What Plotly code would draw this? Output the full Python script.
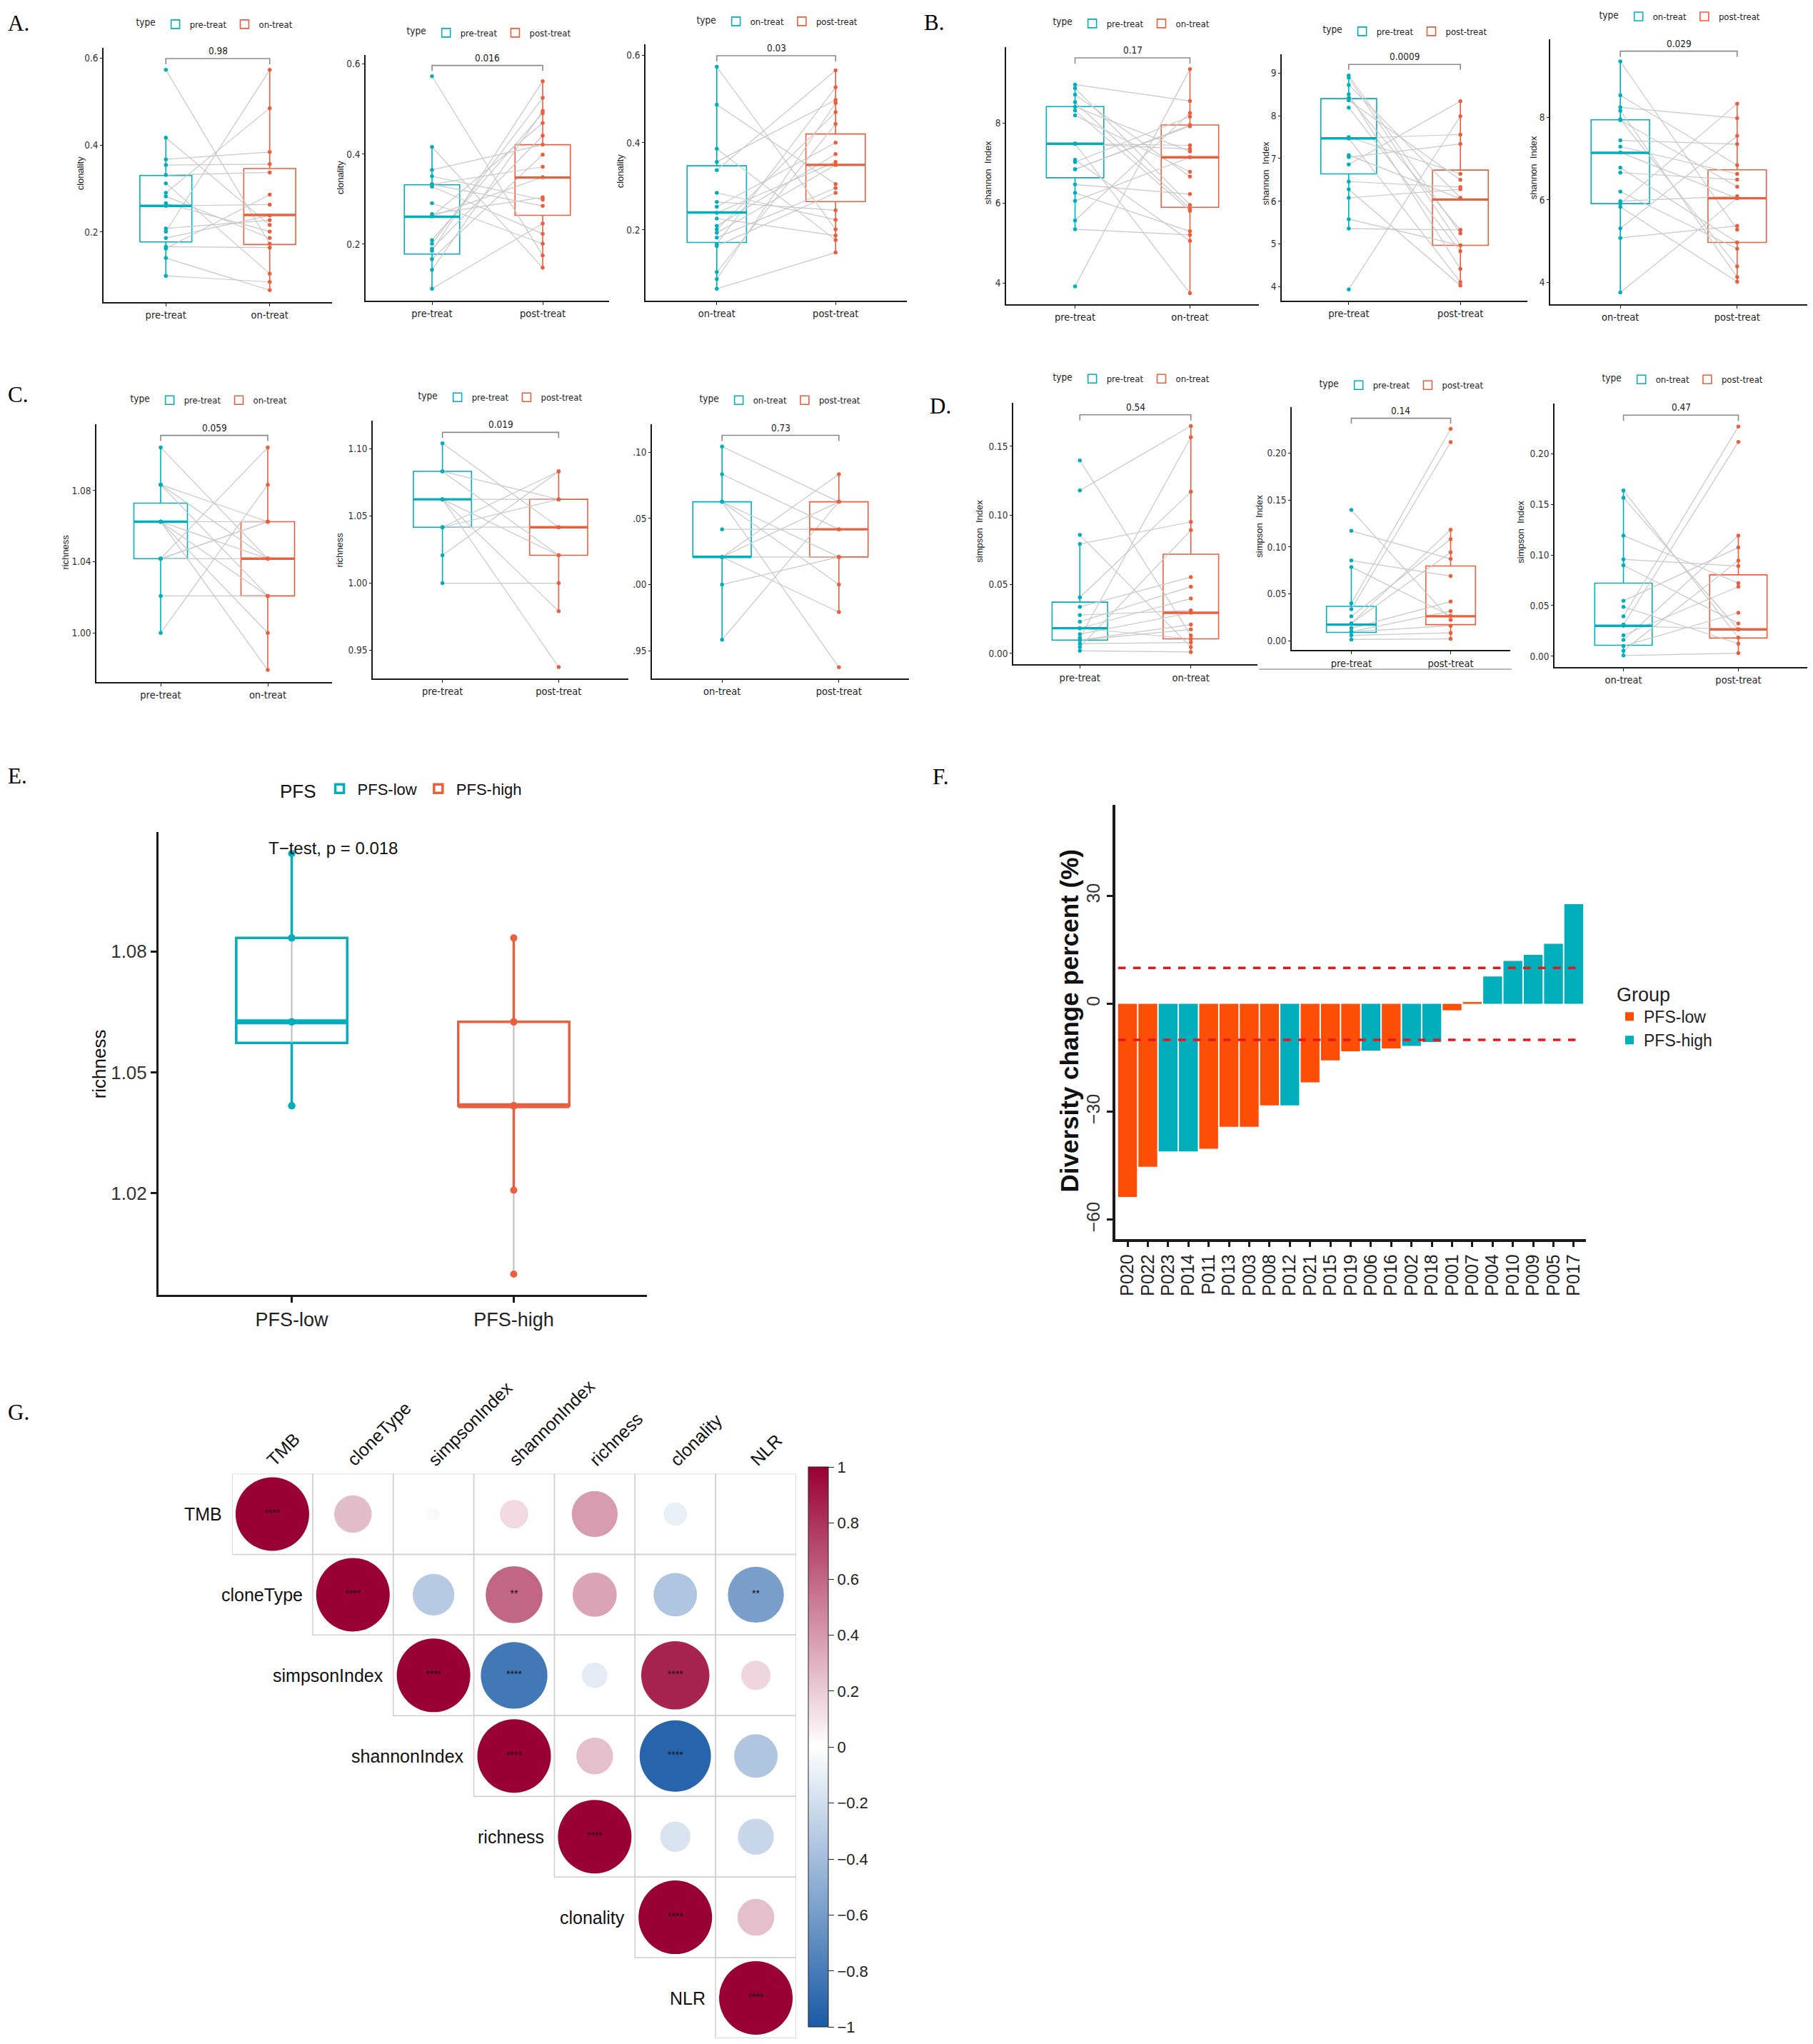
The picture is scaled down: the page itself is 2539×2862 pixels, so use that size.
import plotly.graph_objects as go

W, H = 2539, 2862
OFF = 8                      # default page margin around the plot div
PW, PH = W - 2 * OFF, H - 2 * OFF
SANS = "Liberation Sans, Arial, Helvetica, sans-serif"
NARROW = "Liberation Sans Narrow, Arial Narrow, DejaVu Sans Condensed, Liberation Sans, sans-serif"
SERIF = "Liberation Serif, Times New Roman, serif"
TEAL = "#00AFBB"
RED = "#EA5F3D"
ORANGE = "#FC4E07"
PAIR_GRAY = "#C8C8C8"

# ------------------------------------------------------------------ data
# Panels A-D: paired values (same patient at the same index) + box stats
# box stats = [lower whisker, Q1, median, Q3, upper whisker]
A1_pre = [0.573, 0.417, 0.367, 0.354, 0.331, 0.312, 0.290, 0.282, 0.266, 0.260, 0.208, 0.201, 0.186, 0.166, 0.162, 0.140, 0.099]
A1_on = [0.173, 0.216, 0.384, 0.356, 0.337, 0.104, 0.485, 0.186, 0.201, 0.263, 0.227, 0.573, 0.238, 0.164, 0.286, 0.066, 0.085]
A1_pre_box = [0.099, 0.177, 0.260, 0.330, 0.417]
A1_on_box = [0.066, 0.171, 0.239, 0.346, 0.573]

A2_pre = [0.573, 0.416, 0.365, 0.351, 0.333, 0.333, 0.328, 0.291, 0.267, 0.262, 0.262, 0.209, 0.201, 0.190, 0.185, 0.167, 0.143, 0.101]
A2_post = [0.175, 0.148, 0.421, 0.299, 0.285, 0.372, 0.223, 0.201, 0.304, 0.349, 0.469, 0.491, 0.525, 0.441, 0.562, 0.399, 0.496, 0.246]
A2_pre_box = [0.101, 0.178, 0.261, 0.332, 0.416]
A2_post_box = [0.148, 0.264, 0.348, 0.421, 0.562]

A3_on = [0.574, 0.487, 0.386, 0.356, 0.337, 0.285, 0.264, 0.253, 0.239, 0.226, 0.209, 0.201, 0.193, 0.182, 0.168, 0.163, 0.103, 0.087, 0.065]
A3_post = [0.201, 0.305, 0.177, 0.498, 0.566, 0.223, 0.245, 0.400, 0.356, 0.187, 0.374, 0.470, 0.349, 0.296, 0.527, 0.285, 0.443, 0.491, 0.148]
A3_on_box = [0.065, 0.171, 0.240, 0.347, 0.574]
A3_post_box = [0.148, 0.265, 0.349, 0.420, 0.566]

B1_pre = [8.97, 8.88, 8.72, 8.53, 8.41, 8.32, 8.20, 7.49, 7.49, 7.49, 7.09, 7.03, 6.85, 6.85, 6.47, 6.26, 6.06, 5.57, 5.35, 3.92]
B1_on = [8.56, 5.96, 6.67, 5.87, 7.30, 5.81, 6.79, 7.36, 3.75, 7.45, 5.06, 8.17, 7.96, 7.93, 6.23, 5.30, 7.15, 8.26, 5.21, 9.36]
B1_pre_box = [5.35, 6.64, 7.49, 8.42, 8.97]
B1_on_box = [3.75, 5.90, 7.15, 7.96, 9.36]

B2_pre = [8.94, 8.89, 8.72, 8.50, 8.42, 8.36, 8.19, 7.50, 7.47, 7.47, 7.08, 7.03, 6.86, 6.46, 6.28, 6.08, 5.58, 5.36, 3.94]
B2_post = [5.25, 4.97, 6.08, 4.42, 5.33, 6.50, 4.83, 6.64, 4.11, 7.56, 6.06, 7.34, 8.34, 6.33, 4.03, 6.28, 4.97, 5.33, 7.99]
B2_pre_box = [5.36, 6.64, 7.47, 8.40, 8.94]
B2_post_box = [4.03, 4.97, 6.04, 6.73, 8.34]

B3_on = [9.35, 8.53, 8.24, 8.16, 7.95, 7.93, 7.44, 7.29, 7.15, 6.78, 6.66, 6.20, 5.97, 5.91, 5.83, 5.31, 5.08, 3.76]
B3_post = [5.28, 6.84, 7.98, 4.13, 4.39, 6.32, 7.35, 6.63, 6.04, 4.97, 6.49, 4.82, 6.09, 8.33, 4.02, 7.55, 5.37, 6.04]
B3_on_box = [3.76, 5.91, 7.14, 7.94, 9.35]
B3_post_box = [4.02, 4.97, 6.04, 6.73, 8.33]

C1_pre = [1.1042, 1.0833, 1.0833, 1.0833, 1.0625, 1.0625, 1.0625, 1.0625, 1.0625, 1.0417, 1.0417, 1.0417, 1.0417, 1.0208, 1.0000]
C1_on = [1.0417, 1.0208, 1.0417, 1.0625, 1.0417, 1.0208, 1.0000, 0.9792, 1.0625, 1.0417, 1.1042, 1.0625, 1.0625, 1.0208, 1.0833]
C1_pre_box = [1.0000, 1.0417, 1.0625, 1.0729, 1.1042]
C1_on_box = [0.9792, 1.0208, 1.0417, 1.0625, 1.1042]

C2_pre = [1.1042, 1.0833, 1.0833, 1.0625, 1.0625, 1.0625, 1.0417, 1.0417, 1.0417, 1.0208, 1.0000, 1.0625]
C2_post = [1.0417, 1.0208, 1.0625, 1.0625, 1.0208, 0.9375, 1.0833, 1.0625, 1.0417, 1.0833, 1.0000, 0.9792]
C2_pre_box = [1.0000, 1.0417, 1.0625, 1.0833, 1.1042]
C2_post_box = [0.9792, 1.0208, 1.0417, 1.0625, 1.0833]

C3_on = [1.1042, 1.0833, 1.0625, 1.0625, 1.0625, 1.0417, 1.0208, 1.0208, 1.0208, 1.0208, 1.0000, 0.9583]
C3_post = [1.0625, 1.0417, 1.0208, 1.0000, 0.9375, 1.0417, 1.0833, 1.0625, 1.0208, 0.9792, 1.0208, 1.0625]
C3_on_box = [0.9583, 1.0208, 1.0208, 1.0625, 1.1042]
C3_post_box = [0.9792, 1.0208, 1.0417, 1.0625, 1.0833]

D1_pre = [0.1397, 0.1179, 0.0857, 0.0792, 0.0405, 0.0337, 0.0277, 0.0229, 0.0182, 0.0182, 0.0139, 0.0113, 0.0096, 0.0096, 0.0070, 0.0045, 0.0019]
D1_on = [0.0130, 0.1646, 0.0045, 0.0952, 0.1170, 0.0552, 0.0311, 0.0483, 0.0397, 0.0105, 0.0294, 0.1565, 0.0208, 0.0173, 0.0079, 0.0892, 0.0010]
D1_pre_box = [0.0019, 0.0096, 0.0182, 0.0371, 0.0792]
D1_on_box = [0.0010, 0.0105, 0.0294, 0.0718, 0.1646]

D2_pre = [0.1395, 0.1172, 0.0856, 0.0787, 0.0400, 0.0337, 0.0261, 0.0185, 0.0185, 0.0134, 0.0096, 0.0096, 0.0058, 0.0013]
D2_post = [0.0223, 0.0873, 0.0690, 0.0266, 0.2260, 0.2120, 0.1083, 0.0944, 0.1185, 0.0418, 0.0160, 0.0316, 0.0084, 0.0020]
D2_pre_box = [0.0013, 0.0089, 0.0172, 0.0367, 0.0787]
D2_post_box = [0.0020, 0.0172, 0.0261, 0.0797, 0.1185]

D3_on = [0.1637, 0.1566, 0.1191, 0.0957, 0.0898, 0.0547, 0.0488, 0.0394, 0.0312, 0.0207, 0.0160, 0.0101, 0.0054, 0.0007, 0.0300]
D3_post = [0.0183, 0.0265, 0.0722, 0.0891, 0.0324, 0.1074, 0.0124, 0.2270, 0.2117, 0.0687, 0.1191, 0.0429, 0.0945, 0.0030, 0.0265]
D3_on_box = [0.0007, 0.0108, 0.0300, 0.0722, 0.1637]
D3_post_box = [0.0030, 0.0179, 0.0265, 0.0804, 0.1191]

CMP_PRE_ON = ["pre-treat", "on-treat"]
CMP_PRE_POST = ["pre-treat", "post-treat"]
CMP_ON_POST = ["on-treat", "post-treat"]
P_A = ["0.98", "0.016", "0.03"]
P_B = ["0.17", "0.0009", "0.029"]
P_C = ["0.059", "0.019", "0.73"]
P_D = ["0.54", "0.14", "0.47"]
Y_TITLES = ["clonality", "shannon  Index", "richness", "simpson  Index"]

# Panel E: richness by PFS group
E_groups = ["PFS-low", "PFS-high"]
E_low = [1.1042, 1.0833, 1.0833, 1.0625, 1.0625, 1.0625, 1.0417, 1.0417]
E_high = [1.0833, 1.0625, 1.0625, 1.0417, 1.0417, 1.0417, 1.0417, 1.0208, 1.0000]
E_low_box = [1.0417, 1.0573, 1.0625, 1.0833, 1.1042]
E_high_box = [1.0208, 1.0417, 1.0417, 1.0625, 1.0833]
E_TEST = "T\u2212test, p = 0.018"

# Panel F: waterfall of diversity change
F_patients = ["P020", "P022", "P023", "P014", "P011", "P013", "P003", "P008", "P012", "P021", "P015", "P019",
              "P006", "P016", "P002", "P018", "P001", "P007", "P004", "P010", "P009", "P005", "P017"]
F_change = [-53.7, -45.3, -41.0, -41.0, -40.3, -34.2, -34.2, -28.2, -28.2, -21.8, -15.7, -13.2,
            -13.0, -12.4, -11.7, -10.6, -1.8, 0.5, 7.6, 11.9, 13.6, 16.7, 27.7]
F_group = ["PFS-low", "PFS-low", "PFS-high", "PFS-high", "PFS-low", "PFS-low", "PFS-low", "PFS-low", "PFS-high",
           "PFS-low", "PFS-low", "PFS-low", "PFS-high", "PFS-low", "PFS-high", "PFS-high", "PFS-low", "PFS-low",
           "PFS-high", "PFS-high", "PFS-high", "PFS-high", "PFS-high"]
F_thresholds = [10, -10]
F_ticks = [-60, -30, 0, 30]

# Panel G: correlation matrix (upper triangle)
G_vars = ["TMB", "cloneType", "simpsonIndex", "shannonIndex", "richness", "clonality", "NLR"]
G_corr = [
    [1.00, 0.26, 0.03, 0.15, 0.39, -0.10, 0.00],
    [None, 1.00, -0.32, 0.60, 0.36, -0.35, -0.58],
    [None, None, 1.00, -0.82, -0.12, 0.86, 0.16],
    [None, None, None, 1.00, 0.25, -0.94, -0.35],
    [None, None, None, None, 1.00, -0.17, -0.24],
    [None, None, None, None, None, 1.00, 0.25],
    [None, None, None, None, None, None, 1.00],
]
G_sig = [
    ["****", "", "", "", "", "", ""],
    ["", "****", "", "**", "", "", "**"],
    ["", "", "****", "****", "", "****", ""],
    ["", "", "", "****", "", "****", ""],
    ["", "", "", "", "****", "", ""],
    ["", "", "", "", "", "****", ""],
    ["", "", "", "", "", "", "****"],
]
G_ticks = [-1, -0.8, -0.6, -0.4, -0.2, 0, 0.2, 0.4, 0.6, 0.8, 1]

BOX_PANELS = [
    dict(g1=A1_pre, g2=A1_on, b1=A1_pre_box, b2=A1_on_box, cats=CMP_PRE_ON, p=P_A[0], title=Y_TITLES[0]),
    dict(g1=A2_pre, g2=A2_post, b1=A2_pre_box, b2=A2_post_box, cats=CMP_PRE_POST, p=P_A[1], title=Y_TITLES[0]),
    dict(g1=A3_on, g2=A3_post, b1=A3_on_box, b2=A3_post_box, cats=CMP_ON_POST, p=P_A[2], title=Y_TITLES[0]),
    dict(g1=B1_pre, g2=B1_on, b1=B1_pre_box, b2=B1_on_box, cats=CMP_PRE_ON, p=P_B[0], title=Y_TITLES[1]),
    dict(g1=B2_pre, g2=B2_post, b1=B2_pre_box, b2=B2_post_box, cats=CMP_PRE_POST, p=P_B[1], title=Y_TITLES[1]),
    dict(g1=B3_on, g2=B3_post, b1=B3_on_box, b2=B3_post_box, cats=CMP_ON_POST, p=P_B[2], title=Y_TITLES[1]),
    dict(g1=C1_pre, g2=C1_on, b1=C1_pre_box, b2=C1_on_box, cats=CMP_PRE_ON, p=P_C[0], title=Y_TITLES[2]),
    dict(g1=C2_pre, g2=C2_post, b1=C2_pre_box, b2=C2_post_box, cats=CMP_PRE_POST, p=P_C[1], title=Y_TITLES[2]),
    dict(g1=C3_on, g2=C3_post, b1=C3_on_box, b2=C3_post_box, cats=CMP_ON_POST, p=P_C[2], title=None),
    dict(g1=D1_pre, g2=D1_on, b1=D1_pre_box, b2=D1_on_box, cats=CMP_PRE_ON, p=P_D[0], title=Y_TITLES[3]),
    dict(g1=D2_pre, g2=D2_post, b1=D2_pre_box, b2=D2_post_box, cats=CMP_PRE_POST, p=P_D[1], title=Y_TITLES[3]),
    dict(g1=D3_on, g2=D3_post, b1=D3_on_box, b2=D3_post_box, cats=CMP_ON_POST, p=P_D[2], title=Y_TITLES[3]),
]

# ------------------------------------------------------------------ layout spec (screen pixels)
T1 = [0.2, 0.4, 0.6]
TC = [0.95, 1.00, 1.05, 1.10]
TD1 = [0.00, 0.05, 0.10, 0.15]
TD2 = [0.00, 0.05, 0.10, 0.15, 0.20]
BOX_LAYOUT = [
    dict(ax=(145, 465, 58, 415), yr=(0.039, 0.624), yt=T1, fmt=".1f", br=0.599, leg=(302, 25), ttl=(112, 235)),
    dict(ax=(512, 853, 68, 413), yr=(0.075, 0.6205), yt=T1, fmt=".1f", br=0.597, leg=(686, 37), ttl=(476, 240)),
    dict(ax=(904, 1270, 53, 413), yr=(0.038, 0.626), yt=T1, fmt=".1f", br=0.5995, leg=(1090, 21), ttl=(868, 232)),
    dict(ax=(1409, 1763, 57, 418), yr=(3.48, 9.91), yt=[4, 6, 8], fmt=".0f", br=9.64, leg=(1586, 24), ttl=(1383, 233)),
    dict(ax=(1795, 2139, 67, 413), yr=(3.68, 9.44), yt=[4, 5, 6, 7, 8, 9], fmt=".0f", br=9.2, leg=(1969, 35), ttl=(1772, 235)),
    dict(ax=(2171, 2535, 46, 418), yr=(3.48, 9.89), yt=[4, 6, 8], fmt=".0f", br=9.60, leg=(2354, 14), ttl=(2147, 227)),
    dict(ax=(135, 465, 587, 949), yr=(0.9724, 1.1172), yt=[1.00, 1.04, 1.08], fmt=".2f", br=1.111, leg=(294, 553), ttl=(92, 767)),
    dict(ax=(522, 880, 582, 944), yr=(0.929, 1.121), yt=TC, fmt=".2f", br=1.1124, leg=(702, 549), ttl=(476, 763)),
    dict(ax=(913, 1273, 587, 944), yr=(0.929, 1.121), yt=TC, fmt=".2f", ytext=[".95", ".00", ".05", ".10"],
         br=1.1127, leg=(1094, 553), ttl=None),
    dict(ax=(1419, 1761, 557, 924), yr=(-0.0079, 0.1813), yt=TD1, fmt=".2f", br=0.1728, leg=(1586, 523), ttl=(1372, 737)),
    dict(ax=(1809, 2115, 563, 904), yr=(-0.0099, 0.2491), yt=TD2, fmt=".2f", br=0.2374, leg=(1964, 532), ttl=(1764, 730)),
    dict(ax=(2177, 2535, 558, 928), yr=(-0.0108, 0.2495), yt=TD2, fmt=".2f", br=0.2382, leg=(2358, 524), ttl=(2130, 738)),
]


def fx(px):
    return (px - OFF) / PW


def fy(py):
    return 1 - (py - OFF) / PH


def clamp(v):
    return min(1.0, max(0.0, v))


def xdom(a, b):
    return [clamp(fx(a)), clamp(fx(b))]


def ydom(top, bottom):
    return [clamp(fy(bottom)), clamp(fy(top))]


def names(k):
    s = "" if k == 1 else str(k)
    return "x" + s, "y" + s, "xaxis" + s, "yaxis" + s


def paper_text(px, py, text, size, angle=0, color="#111", family=SANS, xanchor="center"):
    return dict(x=fx(px), y=fy(py), xref="paper", yref="paper", text=text, showarrow=False,
                textangle=angle, xanchor=xanchor, yanchor="middle",
                font=dict(size=size, color=color, family=family))


fig = go.Figure()
layout = dict(width=PW, height=PH, margin=dict(l=0, r=0, t=0, b=0), paper_bgcolor="white",
              plot_bgcolor="white", font=dict(family=SANS, color="#222"), hovermode=False,
              barmode="overlay", showlegend=True)
annotations = []
shapes = []

AX_COMMON = dict(showline=True, linecolor="#1a1a1a", ticks="outside", tickcolor="#1a1a1a",
                 showgrid=False, zeroline=False, fixedrange=True)

# ------------------------------------------------------------------ panels A-D
for i, (pn, lay) in enumerate(zip(BOX_PANELS, BOX_LAYOUT)):
    k = i + 1
    xr, yr_, xa, ya = names(k)
    x0, x1, y0, y1 = lay["ax"]
    layout[xa] = dict(domain=xdom(x0, x1), anchor=yr_, range=[-0.6, 1.6], tickmode="array",
                      tickvals=[0, 1], ticktext=pn["cats"], linewidth=2, ticklen=4, tickwidth=1.2,
                      tickfont=dict(size=14.5, color="#222", family=NARROW), **AX_COMMON)
    ytext = lay.get("ytext") or [format(v, lay["fmt"]) for v in lay["yt"]]
    layout[ya] = dict(domain=ydom(y0, y1), anchor=xr, range=list(lay["yr"]), tickmode="array",
                      tickvals=lay["yt"], ticktext=ytext, linewidth=1.6, ticklen=3, tickwidth=1.2,
                      tickfont=dict(size=13.5, color="#333", family=NARROW), **AX_COMMON)
    g1, g2 = pn["g1"], pn["g2"]
    lx, ly = [], []
    for a, b in zip(g1, g2):
        lx += [0, 1, None]
        ly += [a, b, None]
    fig.add_trace(go.Scatter(x=lx, y=ly, mode="lines", line=dict(color=PAIR_GRAY, width=1.2),
                             xaxis=xr, yaxis=yr_, showlegend=False))
    lg = "legend%d" % (k + 1)
    groups = ((g1, pn["b1"], TEAL, pn["cats"][0]), (g2, pn["b2"], RED, pn["cats"][1]))
    for gi, (vals, st, col, name) in enumerate(groups):
        fig.add_trace(go.Box(x=[gi], lowerfence=[st[0]], q1=[st[1]], median=[st[2]], q3=[st[3]],
                             upperfence=[st[4]], width=0.5, whiskerwidth=0, boxpoints=False,
                             fillcolor="rgba(255,255,255,0)", line=dict(color=col, width=1.6),
                             name=name, legend=lg, showlegend=True, xaxis=xr, yaxis=yr_))
        fig.add_trace(go.Scatter(x=[gi - 0.25, gi + 0.25], y=[st[2], st[2]], mode="lines",
                                 line=dict(color=col, width=3.4), xaxis=xr, yaxis=yr_, showlegend=False))
        fig.add_trace(go.Scatter(x=[gi] * len(vals), y=vals, mode="markers",
                                 marker=dict(color=col, size=5.5, opacity=1), xaxis=xr, yaxis=yr_,
                                 showlegend=False))
    b = lay["br"]
    d = 0.022 * (lay["yr"][1] - lay["yr"][0])
    fig.add_trace(go.Scatter(x=[0, 0, 1, 1], y=[b - d, b, b, b - d], mode="lines",
                             line=dict(color="#8A8A8A", width=1.6), xaxis=xr, yaxis=yr_, showlegend=False))
    annotations.append(dict(x=0.5, y=b, xref=xr, yref=yr_, text=pn["p"], showarrow=False,
                            xanchor="center", yanchor="bottom", yshift=1,
                            font=dict(size=13.5, color="#222", family=NARROW)))
    if lay["ttl"] is not None and pn["title"]:
        tx, ty = lay["ttl"]
        annotations.append(paper_text(tx, ty, pn["title"], 13, angle=-90, color="#222"))
    cx, cy = lay["leg"]
    layout[lg] = dict(x=fx(cx), y=fy(cy), xanchor="center", yanchor="middle", orientation="h",
                      title=dict(text="type", side="left", font=dict(size=13.5, color="#222", family=NARROW)),
                      font=dict(size=13, color="#222", family=NARROW), bgcolor="rgba(0,0,0,0)", itemwidth=30)

# stray rule under the middle D panel
shapes.append(dict(type="line", xref="paper", yref="paper", x0=fx(1763), x1=fx(2117), y0=fy(931),
                   y1=fy(931), line=dict(color="#A0A0A0", width=1.5)))

# ------------------------------------------------------------------ panel E
xr, yr_, xa, ya = names(13)
layout[xa] = dict(domain=xdom(222, 906), anchor=yr_, range=[-0.6, 1.6], tickmode="array",
                  tickvals=[0, 1], ticktext=E_groups, linewidth=3, ticklen=8, tickwidth=2.5,
                  tickfont=dict(size=27, color="#222"), **AX_COMMON)
layout[ya] = dict(domain=ydom(1160, 1810), anchor=xr, range=[0.9948, 1.1095], tickmode="array",
                  tickvals=[1.02, 1.05, 1.08], ticktext=["1.02", "1.05", "1.08"], linewidth=3, ticklen=8,
                  tickwidth=2.5, tickfont=dict(size=26, color="#333"), **AX_COMMON)
for gi, (vals, st, col, name) in enumerate(((E_low, E_low_box, TEAL, E_groups[0]),
                                            (E_high, E_high_box, RED, E_groups[1]))):
    lo, hi = min(vals), max(vals)
    segs_y = [lo, st[0], None, st[1], st[3], None, st[4], hi]
    fig.add_trace(go.Scatter(x=[gi, gi, None, gi, gi, None, gi, gi], y=segs_y, mode="lines",
                             line=dict(color="#BDBDBD", width=2), xaxis=xr, yaxis=yr_, showlegend=False))
    fig.add_trace(go.Box(x=[gi], lowerfence=[st[0]], q1=[st[1]], median=[st[2]], q3=[st[3]],
                         upperfence=[st[4]], width=0.5, whiskerwidth=0, boxpoints=False,
                         fillcolor="rgba(255,255,255,0)", line=dict(color=col, width=3.5),
                         name=name, legend="legend14", showlegend=True, xaxis=xr, yaxis=yr_))
    fig.add_trace(go.Scatter(x=[gi - 0.25, gi + 0.25], y=[st[2], st[2]], mode="lines",
                             line=dict(color=col, width=7), xaxis=xr, yaxis=yr_, showlegend=False))
    fig.add_trace(go.Scatter(x=[gi] * len(vals), y=vals, mode="markers",
                             marker=dict(color=col, size=10, opacity=1), xaxis=xr, yaxis=yr_,
                             showlegend=False))
annotations.append(paper_text(466, 1182, E_TEST, 24))
annotations.append(paper_text(139, 1486, "richness", 26, angle=-90))
layout["legend14"] = dict(x=fx(563), y=fy(1100), xanchor="center", yanchor="middle", orientation="h",
                          title=dict(text="PFS", side="left", font=dict(size=26, color="#111")),
                          font=dict(size=22, color="#111"), bgcolor="rgba(0,0,0,0)", itemwidth=40)

# ------------------------------------------------------------------ panel F
xr, yr_, xa, ya = names(14)
layout[xa] = dict(domain=xdom(1562, 2221), anchor=yr_, type="category", categoryorder="array",
                  categoryarray=F_patients, tickmode="array", tickvals=F_patients, ticktext=F_patients,
                  range=[-0.6, len(F_patients) - 0.4], tickangle=-90,
                  linewidth=3.5, ticklen=8, tickwidth=3, tickfont=dict(size=25, color="#222"), **AX_COMMON)
layout[ya] = dict(domain=ydom(1122, 1731), anchor=xr, range=[-65.3, 55.2], tickmode="array",
                  tickvals=F_ticks, ticktext=[str(v).replace("-", "\u2212") for v in F_ticks], tickangle=-90,
                  linewidth=3.5, ticklen=8, tickwidth=3, tickfont=dict(size=25, color="#333"), **AX_COMMON)
for grp, col in (("PFS-low", ORANGE), ("PFS-high", TEAL)):
    xs = [p for p, g in zip(F_patients, F_group) if g == grp]
    ys = [v for v, g in zip(F_change, F_group) if g == grp]
    fig.add_trace(go.Bar(x=xs, y=ys, name=grp, marker=dict(color=col, line=dict(width=0)), width=0.93,
                         legend="legend15", xaxis=xr, yaxis=yr_))
for thr in F_thresholds:
    shapes.append(dict(type="line", xref=xr + " domain", yref=yr_, x0=0.006, x1=0.99, y0=thr, y1=thr,
                       line=dict(color="#E8161B", width=3.5, dash="dash")))
annotations.append(paper_text(1498, 1425, "<b>Diversity change percent (%)</b>", 35, angle=-90))
layout["legend15"] = dict(x=fx(2262), y=fy(1362), xanchor="left", yanchor="top", orientation="v",
                          title=dict(text="Group", side="top", font=dict(size=27, color="#222")),
                          font=dict(size=23, color="#222"), bgcolor="rgba(0,0,0,0)", tracegroupgap=4)

# ------------------------------------------------------------------ panel G
xr, yr_, xa, ya = names(15)
n = len(G_vars)
layout[xa] = dict(domain=xdom(325, 1115), anchor=yr_, range=[0.5, n + 0.5], visible=False, fixedrange=True)
layout[ya] = dict(domain=ydom(2061, 2854), anchor=xr, range=[n + 0.5, 0.5], visible=False, fixedrange=True)
CELL_D = 103
cx_, cy_, cs, cc, tx_, ty_, tt = [], [], [], [], [], [], []
for i in range(n):
    for j in range(n):
        r = G_corr[i][j]
        if r is None:
            continue
        shapes.append(dict(type="rect", xref=xr, yref=yr_, x0=j + 0.5, x1=j + 1.5, y0=i + 0.5, y1=i + 1.5,
                           line=dict(color="#D0D0D0", width=1.5), fillcolor="rgba(0,0,0,0)", layer="below"))
        cx_.append(j + 1)
        cy_.append(i + 1)
        cs.append(CELL_D * abs(r) ** 0.5)
        cc.append(r)
        if G_sig[i][j]:
            tx_.append(j + 1)
            ty_.append(i + 1)
            tt.append(G_sig[i][j])
fig.add_trace(go.Scatter(
    x=cx_, y=cy_, mode="markers", xaxis=xr, yaxis=yr_, showlegend=False,
    marker=dict(size=cs, color=cc, cmin=-1, cmax=1, opacity=1, line=dict(width=0),
                colorscale=[[0, "#1A5AA6"], [0.5, "#FFFFFF"], [1, "#990033"]],
                showscale=True,
                colorbar=dict(x=fx(1132), xanchor="left", y=fy(2445), yanchor="middle", len=784,
                              lenmode="pixels", thickness=28, thicknessmode="pixels", outlinewidth=1,
                              outlinecolor="#222", tickmode="array", tickvals=G_ticks,
                              ticktext=[("%g" % v).replace("-", "\u2212") for v in G_ticks],
                              ticklabeloverflow="allow",
                              ticks="outside", ticklen=8, tickcolor="#222", xpad=0, ypad=0,
                              tickfont=dict(size=22, color="#222")))))
fig.add_trace(go.Scatter(x=tx_, y=ty_, text=tt, mode="text", textfont=dict(size=14, color="#111"),
                         xaxis=xr, yaxis=yr_, showlegend=False))
for i, v in enumerate(G_vars):
    annotations.append(dict(x=i + 0.5, y=i + 1, xref=xr, yref=yr_, text=v, showarrow=False,
                            xanchor="right", yanchor="middle", xshift=-12, font=dict(size=25, color="#111")))
    annotations.append(dict(x=i + 1, y=0.5, xref=xr, yref=yr_, text=v, showarrow=False, textangle=-45,
                            xanchor="left", yanchor="bottom", xshift=-16, yshift=3,
                            font=dict(size=25, color="#111")))

# ------------------------------------------------------------------ panel letters
for lab, px, py in (("A.", 9, 24), ("B.", 1292, 23), ("C.", 9, 545), ("D.", 1300, 561),
                    ("E.", 9, 1081), ("F.", 1304, 1082), ("G.", 9, 1975)):
    annotations.append(paper_text(px, py, lab, 31, color="#000", family=SERIF, xanchor="left"))

layout["annotations"] = annotations
layout["shapes"] = shapes
fig.update_layout(**layout)
fig.write_html("out.html")
